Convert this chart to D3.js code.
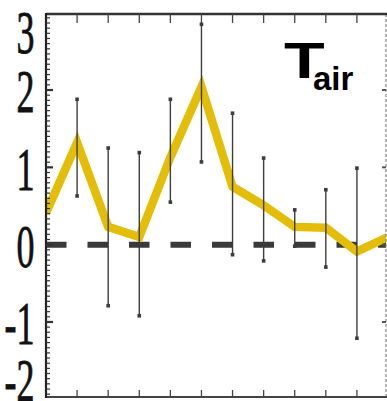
<!DOCTYPE html>
<html>
<head>
<meta charset="utf-8">
<script src="https://cdn.jsdelivr.net/npm/d3@7/dist/d3.min.js"></script>
<style>
  html, body { margin: 0; padding: 0; background: #fff; }
  svg { display: block; }
</style>
</head>
<body>
<svg id="chart" width="387" height="401"></svg>
<script>
// Monthly air-temperature anomaly with its spread (min/max of members)
const months   = ["Jan","Feb","Mar","Apr","May","Jun","Jul","Aug","Sep","Oct","Nov","Dec"];
const tairMean = [0.41, 1.32, 0.23, 0.10, 1.13, 2.04, 0.75, 0.51, 0.23, 0.22, -0.09, 0.10];
const tairHigh = [null, 1.88, 1.25, 1.19, 1.88, 2.85, 1.70, 1.12, 0.45, 0.71, 0.99, null];
const tairLow  = [null, 0.63, -0.79, -0.92, 0.55, 1.07, -0.13, -0.21, -0.02, -0.29, -1.21, null];
const yTicks   = [-2, -1, 0, 1, 2, 3];
const yTickLabels = ["-2", "-1", "0", "1", "2", "3"];

const svg = d3.select("#chart");
const frame = { left: 46, right: 386, top: 14, bottom: 397 };

const x = d3.scalePoint().domain(months).range([46, 388]);
const y = d3.scaleLinear().domain([-2, 3]).range([399.3, 12.7]);

svg.append("defs").append("clipPath").attr("id", "plotClip")
  .append("rect")
  .attr("x", frame.left).attr("y", frame.top)
  .attr("width", frame.right - frame.left)
  .attr("height", frame.bottom - frame.top);

const plot = svg.append("g").attr("clip-path", "url(#plotClip)");

// zero reference line
plot.append("line")
  .attr("x1", frame.left).attr("x2", frame.right + 10)
  .attr("y1", y(0)).attr("y2", y(0))
  .attr("stroke", "#3a3a3a").attr("stroke-width", 6)
  .attr("stroke-dasharray", "20.5 21");

// mean anomaly line
const line = d3.line()
  .x((d, i) => x(months[i]))
  .y(d => y(d));
plot.append("path")
  .datum(tairMean)
  .attr("d", line)
  .attr("fill", "none")
  .attr("stroke", "#e3bd08")
  .attr("stroke-width", 8.5)
  .attr("stroke-linejoin", "miter")
  .attr("stroke-miterlimit", 3);

// spread bars
const bars = months.map((m, i) => ({ m, lo: tairLow[i], hi: tairHigh[i] }))
  .filter(d => d.lo !== null && d.hi !== null);
const eb = plot.append("g");
eb.selectAll("line.bar").data(bars).join("line")
  .attr("class", "bar")
  .attr("x1", d => x(d.m)).attr("x2", d => x(d.m))
  .attr("y1", d => y(d.hi)).attr("y2", d => y(d.lo))
  .attr("stroke", "#3d3d3d").attr("stroke-width", 1.4);
const caps = bars.flatMap(d => [{ m: d.m, v: d.hi }, { m: d.m, v: d.lo }]);
eb.selectAll("rect.cap").data(caps).join("rect")
  .attr("class", "cap")
  .attr("x", d => x(d.m) - 1.8).attr("y", d => y(d.v) - 1.8)
  .attr("width", 3.6).attr("height", 3.6)
  .attr("fill", "#3d3d3d");

// frame: right edge dashed
svg.append("line")
  .attr("x1", frame.right).attr("x2", frame.right)
  .attr("y1", frame.top).attr("y2", frame.bottom)
  .attr("stroke", "#888").attr("stroke-width", 1.2)
  .attr("stroke-dasharray", "3 2");
svg.selectAll("line.rtick").data(yTicks.filter(v => v > -2 && v < 3)).join("line")
  .attr("class", "rtick")
  .attr("x1", frame.right - 4).attr("x2", frame.right)
  .attr("y1", d => y(d)).attr("y2", d => y(d))
  .attr("stroke", "#555").attr("stroke-width", 2);

// top and bottom axes with month ticks
const inner = months.slice(1, 11);
const topAxis = svg.append("g");
topAxis.append("line")
  .attr("x1", frame.left).attr("x2", frame.right + 1)
  .attr("y1", frame.top).attr("y2", frame.top)
  .attr("stroke", "#333").attr("stroke-width", 2.5);
topAxis.selectAll("line.t").data(inner).join("line")
  .attr("class", "t")
  .attr("x1", d => x(d)).attr("x2", d => x(d))
  .attr("y1", frame.top).attr("y2", frame.top + 9)
  .attr("stroke", "#444").attr("stroke-width", 1.3);

const botAxis = svg.append("g");
botAxis.append("line")
  .attr("x1", frame.left).attr("x2", frame.right + 1)
  .attr("y1", frame.bottom).attr("y2", frame.bottom)
  .attr("stroke", "#444").attr("stroke-width", 2);
botAxis.selectAll("line.b").data(inner).join("line")
  .attr("class", "b")
  .attr("x1", d => x(d)).attr("x2", d => x(d))
  .attr("y1", frame.bottom).attr("y2", frame.bottom - 7)
  .attr("stroke", "#444").attr("stroke-width", 1.3);

// left axis with dense minor ticks
const leftAxis = svg.append("g");
leftAxis.append("line")
  .attr("x1", frame.left).attr("x2", frame.left)
  .attr("y1", frame.top - 1).attr("y2", frame.bottom + 1)
  .attr("stroke", "#222").attr("stroke-width", 2.2);
const minor = d3.range(-2 * 15, 3 * 15 + 1).map(k => k / 15)
  .filter(v => y(v) > frame.top + 2 && y(v) < frame.bottom - 2);
leftAxis.selectAll("line.mn").data(minor).join("line")
  .attr("class", "mn")
  .attr("x1", frame.left).attr("x2", frame.left + 4)
  .attr("y1", d => y(d)).attr("y2", d => y(d))
  .attr("stroke", "#333").attr("stroke-width", 1.2);
leftAxis.selectAll("line.mj").data(yTicks.filter(v => v > -2 && v < 3)).join("line")
  .attr("class", "mj")
  .attr("x1", frame.left).attr("x2", frame.left + 7)
  .attr("y1", d => y(d)).attr("y2", d => y(d))
  .attr("stroke", "#333").attr("stroke-width", 2.2);

// tall serif tick labels
leftAxis.selectAll("text.yl").data(yTicks).join("text")
  .attr("class", "yl")
  .attr("transform", (d, i) => {
    const cy = Math.max(32, Math.min(380, y(d) + 1.5));
    return `translate(34.5,${cy}) scale(1,1.72)`;
  })
  .attr("text-anchor", "end")
  .attr("dominant-baseline", "central")
  .attr("font-family", "'Liberation Serif', 'Times New Roman', serif")
  .attr("font-size", 36)
  .attr("fill", "#111")
  .attr("stroke", "#111")
  .attr("stroke-width", 0.5)
  .text((d, i) => yTickLabels[i]);

// panel title T_air
const title = svg.append("g").attr("font-family", "'Liberation Sans', Arial, sans-serif")
  .attr("font-weight", "bold").attr("fill", "#000");
title.append("text")
  .attr("transform", "translate(284,78) scale(1.28,0.96)")
  .attr("font-size", 52)
  .text("T");
title.append("text")
  .attr("x", 313).attr("y", 90)
  .attr("font-size", 33)
  .text("air");
</script>
</body>
</html>
